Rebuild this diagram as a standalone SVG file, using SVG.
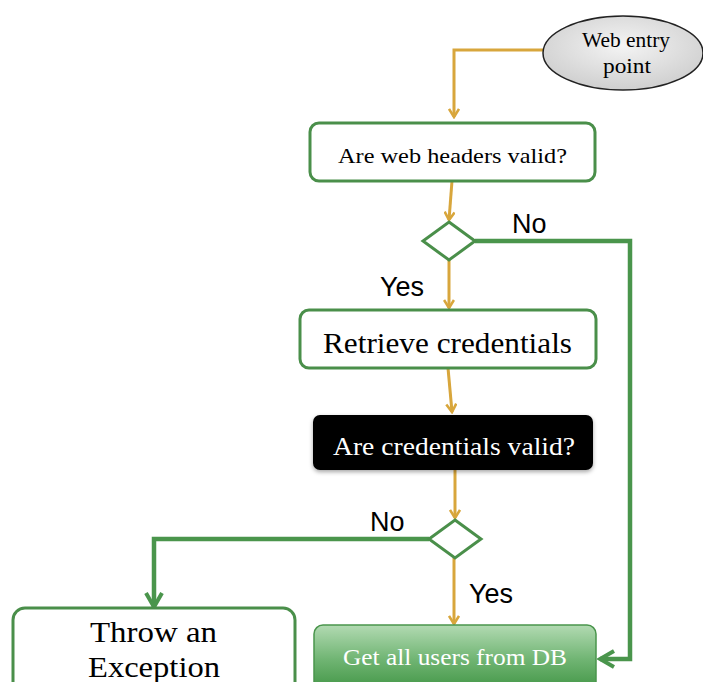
<svg xmlns="http://www.w3.org/2000/svg" width="703" height="682" viewBox="0 0 703 682">
<defs>
<style>
.serif{font-family:"Liberation Serif","Times New Roman",serif;}
.sans{font-family:"Liberation Sans",Arial,sans-serif;font-size:27px;fill:#000;}
.box{fill:#fff;stroke:#4a8f4a;stroke-width:3;}
.oc{fill:none;stroke:#d8a63c;stroke-width:3;}
.gc{fill:none;stroke:#4a954c;stroke-width:4.5;stroke-linejoin:miter;}
</style>
<marker id="ao" viewBox="0 0 12 12" refX="10" refY="6" markerWidth="12" markerHeight="12" markerUnits="userSpaceOnUse" orient="auto">
<path d="M2,1 L10,6 L2,11" fill="none" stroke="#d8a63c" stroke-width="2.6"/>
</marker>
<marker id="ag" viewBox="0 0 20 20" refX="17" refY="10" markerWidth="20" markerHeight="20" markerUnits="userSpaceOnUse" orient="auto">
<path d="M3,2 L17,10 L3,18" fill="none" stroke="#4a954c" stroke-width="4"/>
</marker>
<radialGradient id="eg" cx="50%" cy="40%" r="60%">
<stop offset="0" stop-color="#f4f4f4"/>
<stop offset="1" stop-color="#cfcfcf"/>
</radialGradient>
<linearGradient id="gg" x1="0" y1="0" x2="0" y2="1">
<stop offset="0" stop-color="#b2dab2"/>
<stop offset="0.5" stop-color="#6fb472"/>
<stop offset="1" stop-color="#3b913f"/>
</linearGradient>
<filter id="sh" x="-10%" y="-10%" width="120%" height="140%">
<feDropShadow dx="0" dy="2" stdDeviation="2" flood-color="#000" flood-opacity="0.35"/>
</filter>
</defs>
<rect width="703" height="682" fill="#fff"/>
<g id="connectors">
<path class="oc" d="M543,50 H454 V117" marker-end="url(#ao)"/>
<path class="oc" d="M452,181 L449,220" marker-end="url(#ao)"/>
<path class="gc" d="M475,241 H630 V659 H600" marker-end="url(#ag)"/>
<path class="oc" d="M449,260 V308" marker-end="url(#ao)"/>
<path class="oc" d="M448,368 L452,412" marker-end="url(#ao)"/>
<path class="oc" d="M455,470 V518" marker-end="url(#ao)"/>
<path class="gc" d="M429,539 H154 V607" marker-end="url(#ag)"/>
<path class="oc" d="M454,558 V624" marker-end="url(#ao)"/>
<text class="sans" x="512" y="233">No</text>
<text class="sans" x="380" y="296">Yes</text>
<text class="sans" x="370" y="531">No</text>
<text class="sans" x="469" y="603">Yes</text>
</g>
<g id="web-entry">
<ellipse cx="623" cy="53" rx="80" ry="37" fill="url(#eg)" stroke="#222" stroke-width="1.5"/>
<text class="serif" x="582" y="47" font-size="20" textLength="88" lengthAdjust="spacingAndGlyphs">Web entry</text>
<text class="serif" x="603" y="73" font-size="21" textLength="48" lengthAdjust="spacingAndGlyphs">point</text>
</g>
<g id="headers-valid">
<rect class="box" x="310" y="123" width="285" height="58" rx="9"/>
<text class="serif" x="338" y="163" font-size="22" textLength="229" lengthAdjust="spacingAndGlyphs">Are web headers valid?</text>
</g>
<g id="decision-1">
<polygon points="449,222 475,241 449,260 423,241" fill="#fff" stroke="#4a8f4a" stroke-width="3"/>
</g>
<g id="retrieve-credentials">
<rect class="box" x="300" y="310" width="296" height="58" rx="9"/>
<text class="serif" x="323" y="353" font-size="29" textLength="249" lengthAdjust="spacingAndGlyphs">Retrieve credentials</text>
</g>
<g id="credentials-valid">
<rect x="313" y="415" width="280" height="55" rx="7" fill="#000" filter="url(#sh)"/>
<text class="serif" x="333" y="455" font-size="26" fill="#fff" textLength="242" lengthAdjust="spacingAndGlyphs">Are credentials valid?</text>
</g>
<g id="decision-2">
<polygon points="455,520 481,539 455,558 429,539" fill="#fff" stroke="#4a8f4a" stroke-width="3"/>
</g>
<g id="throw-exception">
<rect class="box" x="13" y="608" width="282" height="90" rx="12"/>
<text class="serif" x="90" y="642" font-size="29" textLength="127" lengthAdjust="spacingAndGlyphs">Throw an</text>
<text class="serif" x="88" y="677" font-size="29" textLength="132" lengthAdjust="spacingAndGlyphs">Exception</text>
</g>
<g id="get-users">
<rect x="314" y="625" width="282" height="70" rx="9" fill="url(#gg)" stroke="#4a954c" stroke-width="1.5"/>
<text class="serif" x="343" y="665" font-size="24" fill="#fff" textLength="224" lengthAdjust="spacingAndGlyphs">Get all users from DB</text>
</g>
</svg>
